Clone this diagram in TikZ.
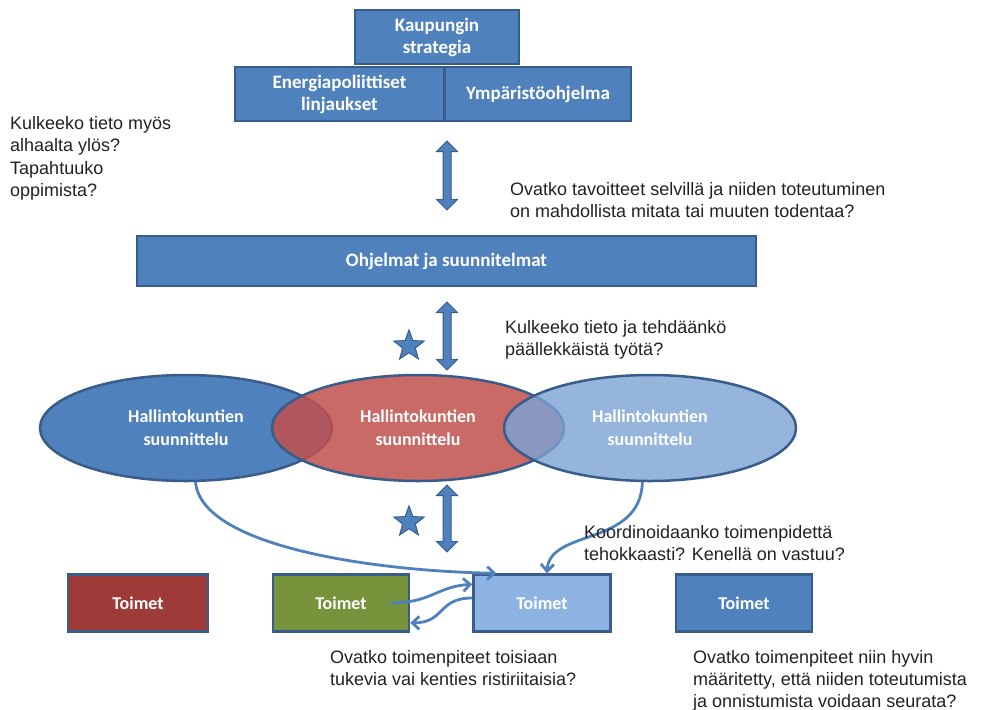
\documentclass[tikz,border=0pt]{standalone}
\usepackage{fontspec}
\setmainfont{Liberation Sans}
\newfontfamily\boxfont{Carlito}
\usepackage{xcolor}
\usepackage{tikz}
\usetikzlibrary{shapes.geometric, shapes.arrows, arrows.meta}
\definecolor{obl}{HTML}{4F81BD}
\definecolor{obd}{HTML}{385D8A}
\definecolor{ored}{HTML}{C0504D}
\definecolor{odred}{HTML}{9E3B39}
\definecolor{ogrn}{HTML}{77933C}
\definecolor{olbl}{HTML}{8DB3E2}
\definecolor{oebl}{HTML}{7BA3D4}
\definecolor{txt}{HTML}{222222}
\tikzstyle{box} = [rectangle, draw=obd, line width=2.5pt, fill=obl, text=white, font=\boxfont\bfseries\fontsize{19}{22}\selectfont, align=center, inner sep=0pt]
\tikzstyle{plan} = [ellipse, draw=obd, line width=2.5pt, minimum width=292pt, minimum height=106pt, text=white, font=\boxfont\bfseries\fontsize{18}{23}\selectfont, align=center, inner sep=0pt]
\tikzstyle{dbl} = [double arrow, draw=obd, fill=obl, line width=1pt, rotate=90, double arrow head extend=6.5pt, inner sep=3.5pt]
\tikzstyle{starmark} = [star, star points=5, star point ratio=2.4, minimum size=32pt, inner sep=0pt, draw=obd, fill=obl, line width=1pt]
\tikzstyle{question} = [anchor=north west, inner sep=0pt, align=left, text=txt, font=\fontsize{18}{22.5}\selectfont]
\tikzstyle{arrow} = [draw=obl, line width=2.8pt, -{Straight Barb[length=7pt,width=13pt]}]

\begin{document}
\begin{tikzpicture}[x=1pt, y=-1pt]
   \fill[white] (0,0) rectangle (994,710);
   \useasboundingbox (0,0) rectangle (994,710);
   % ylin taso
   \node (ks) [box, minimum width=164pt, minimum height=54pt] at (437,37) {Kaupungin\\strategia};
   \node (ep) [box, minimum width=209pt, minimum height=54pt] at (339.5,94) {Energiapoliittiset\\linjaukset};
   \node (yo) [box, minimum width=186pt, minimum height=54pt] at (538,94) {Ympäristöohjelma};
   \node (oh) [box, minimum width=619pt, minimum height=50pt] at (446.5,261) {Ohjelmat ja suunnitelmat};
   % nuolet ja tähdet
   \node (n1) [dbl, minimum height=69pt] at (447,175.5) {};
   \node (n2) [dbl, minimum height=68pt] at (447,336) {};
   \node (n3) [dbl, minimum height=67pt] at (447,518.5) {};
   \node (s2) [starmark] at (409,346) {};
   \node (s3) [starmark] at (409,522) {};
   % hallintokunnat
   \node (h1) [plan, fill=obl] at (186,428) {Hallintokuntien\\suunnittelu};
   \node (h2) [plan, fill=ored, fill opacity=0.85, text opacity=1] at (418,428) {Hallintokuntien\\suunnittelu};
   \node (h3) [plan, fill=oebl, fill opacity=0.8, text opacity=1] at (650,428) {Hallintokuntien\\suunnittelu};
   % toimet
   \node (t1) [box, fill=odred, minimum width=140pt, minimum height=57pt, font=\boxfont\bfseries\fontsize{18}{20}\selectfont] at (138,603) {Toimet};
   \node (t2) [box, fill=ogrn, minimum width=136pt, minimum height=57pt, font=\boxfont\bfseries\fontsize{18}{20}\selectfont] at (341,603) {Toimet};
   \node (t3) [box, fill=olbl, minimum width=137pt, minimum height=57pt, font=\boxfont\bfseries\fontsize{18}{20}\selectfont] at (542,603) {Toimet};
   \node (t4) [box, fill=obl, minimum width=136pt, minimum height=57pt, font=\boxfont\bfseries\fontsize{18}{20}\selectfont] at (744,603) {Toimet};
   \draw [arrow] (h1.280) .. controls +(6,65) and +(-120,-2) .. ([xshift=24pt]t3.north west);
   \draw [arrow] (h3.262) .. controls +(-2,65) and +(2,-45) .. ([xshift=5pt]t3.north);
   \draw [arrow] ([xshift=50pt]t2.center) .. controls +(40,0) and +(-35,2) .. (t3.165);
   \draw [arrow] ([yshift=5pt]t3.west) .. controls +(-35,0) and +(35,0) .. (t2.-16);
   % kysymykset
   \node (q1) [question] at (10,116) {Kulkeeko tieto myös\\alhaalta ylös?\\Tapahtuuko\\oppimista?};
   \node (q2) [question] at (510,182) {Ovatko tavoitteet selvillä ja niiden toteutuminen\\on mahdollista mitata tai muuten todentaa?};
   \node (q3) [question] at (505,320) {Kulkeeko tieto ja tehdäänkö\\päällekkäistä työtä?};
   \node (q4) [question] at (584,525) {Koordinoidaanko toimenpidettä\\tehokkaasti? Kenellä on vastuu?};
   \node (q5) [question, font=\fontsize{18}{22}\selectfont] at (330,650) {Ovatko toimenpiteet toisiaan\\tukevia vai kenties ristiriitaisia?};
   \node (q6) [question, font=\fontsize{18}{22}\selectfont] at (693,650) {Ovatko toimenpiteet niin hyvin\\määritetty, että niiden toteutumista\\ja onnistumista voidaan seurata?};
\end{tikzpicture}
\end{document}
